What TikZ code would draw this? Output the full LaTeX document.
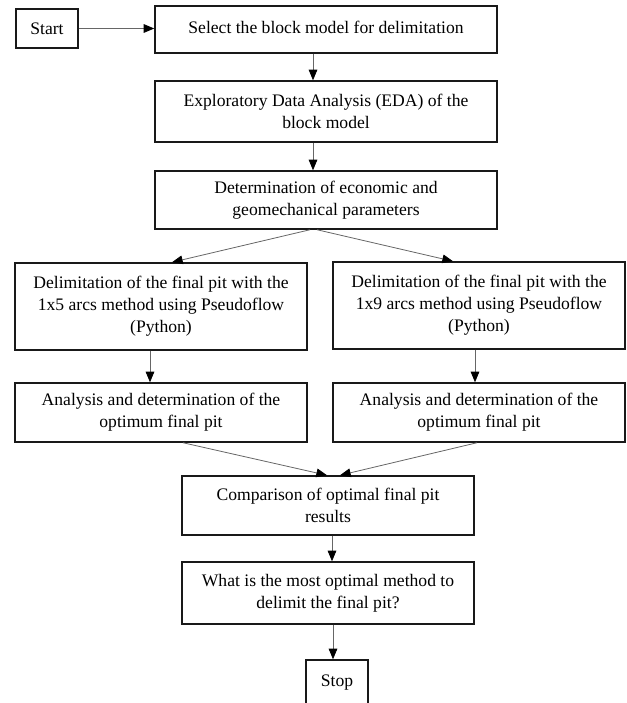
\documentclass[tikz,border=0pt]{standalone}
\usepackage{fontspec}
\setmainfont{Liberation Serif}
\usepackage{tikz}
\usetikzlibrary{arrows.meta, positioning, calc}

\begin{document}
\begin{tikzpicture}[
            font=\fontsize{13.2}{16.5}\selectfont,
            >={Triangle[length=8pt, width=6.5pt, color=black]},
            flow/.style    ={->, draw=black!60, line width=0.6pt},
            box/.style     ={draw=black!90, line width=1.1pt, align=center, inner sep=0pt},
            wide/.style    ={box, minimum width=256.5pt},
            half/.style    ={box, minimum width=219pt},
            small/.style   ={box, minimum width=46.5pt},
            x=0.75pt, y=-0.75pt
        ]
        \useasboundingbox (0,0) rectangle (627,703);

        \node[small, minimum height=29.25pt] (start) at (47,28.5) {Start};
        \node[wide, minimum height=35.25pt]  (sel)   at (326,29.5)
              {\raisebox{3.4pt}{Select the block model for delimitation}};
        \node[wide, minimum height=45.75pt]  (eda)   at (326,111.5)
              {Exploratory Data Analysis (EDA) of the\\block model};
        \node[wide, minimum height=43.5pt]   (det)   at (326,200)
              {Determination of economic and\\geomechanical parameters};

        \node[half, minimum height=65.25pt]  (d5)    at (161,306.5)
              {Delimitation of the final pit with the\\1x5 arcs method using Pseudoflow\\(Python)};
        \node[half, minimum height=65.25pt]  (d9)    at (479,305.5)
              {Delimitation of the final pit with the\\1x9 arcs method using Pseudoflow\\(Python)};
        \node[half, minimum height=44.25pt]  (a5)    at (161,412.5)
              {Analysis and determination of the\\optimum final pit};
        \node[half, minimum height=44.25pt]  (a9)    at (479,412.5)
              {Analysis and determination of the\\optimum final pit};

        \node[half, minimum height=44.25pt]  (comp)  at (328,505.5)
              {Comparison of optimal final pit\\results};
        \node[half, minimum height=46.5pt]   (what)  at (328,593)
              {What is the most optimal method to\\delimit the final pit?};
        \node[small, minimum height=34.5pt]  (stop)  at (337,683)
              {\raisebox{2.25pt}{Stop}};

        \draw[flow] (start.east) -- (start.east -| sel.west);
        \draw[flow] ([xshift=-9.75pt]sel.south) -- ([xshift=-9.75pt]eda.north);
        \draw[flow] ([xshift=-9.75pt]eda.south) -- ([xshift=-9.75pt]det.north);

        % the split leaves the bottom of the box a little left of its centre
        \draw[flow] ([xshift=-12pt]det.south)   -- ([xshift=8.25pt]d5.north);
        \draw[flow] ([xshift=-6.75pt]det.south) -- ([xshift=-19.5pt]d9.north);
        \draw[flow] ([xshift=-8.25pt]d5.south)  -- ([xshift=-8.25pt]a5.north);
        \draw[flow] ([xshift=-3pt]d9.south)     -- ([xshift=-3pt]a9.north);
        \draw[flow] ([xshift=16.5pt]a5.south)   -- ([xshift=-0.75pt]comp.north);
        \draw[flow] ([xshift=-1.5pt]a9.south)   -- ([xshift=9pt]comp.north);

        \draw[flow] ([xshift=3pt]comp.south)    -- ([xshift=3pt]what.north);
        \draw[flow] ([xshift=3.75pt]what.south) -- ([xshift=-3pt]stop.north);
    \end{tikzpicture}
\end{document}
